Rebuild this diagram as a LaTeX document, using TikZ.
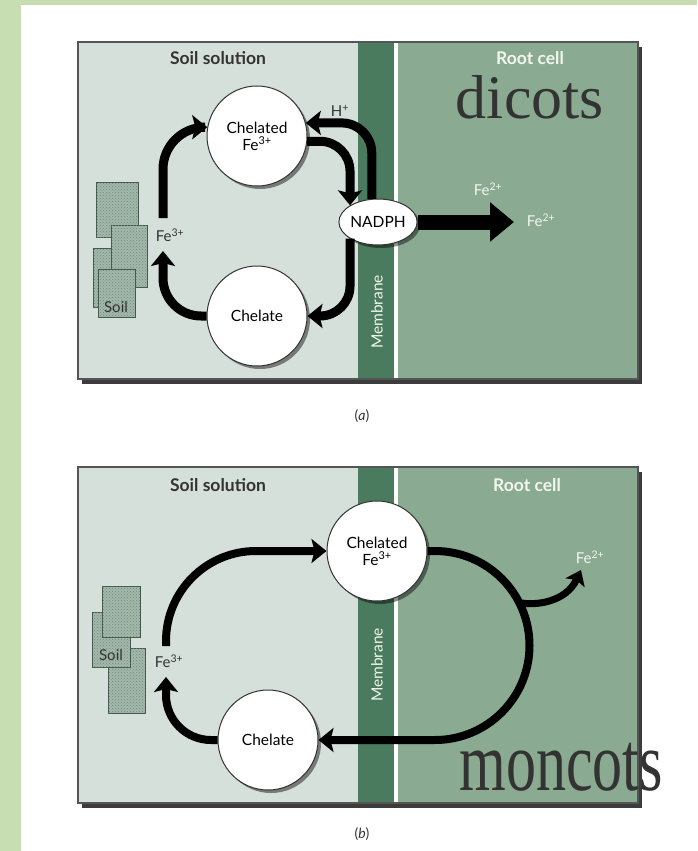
\documentclass[tikz,border=0pt]{standalone}
\usepackage{fontspec}
\setmainfont{Lato}
\newfontfamily\timesfont{Liberation Serif}
\usetikzlibrary{arrows.meta,shapes.geometric,shadows,patterns}

\definecolor{pagegreen}{HTML}{C6DEB2}
\definecolor{soilbg}{HTML}{D6E0DA}
\definecolor{rootbg}{HTML}{8AAB92}
\definecolor{membranebg}{HTML}{4B7B5E}
\definecolor{boxline}{HTML}{555555}
\definecolor{boxshadow}{HTML}{3C3C3C}
\definecolor{soilfill}{HTML}{A3B8AB}
\definecolor{soildot}{HTML}{6F8A79}
\definecolor{soilline}{HTML}{44574B}
\definecolor{paletext}{HTML}{F2F6EF}
\definecolor{inkgray}{HTML}{333333}

\tikzset{
  title/.style={font=\fontsize{17.5}{17.5}\selectfont\bfseries},
  ball/.style={circle, draw=inkgray, line width=1pt, fill=white, minimum size=100pt,
    inner sep=0pt, align=center, font=\fontsize{15.5}{17}\selectfont,
    drop shadow={shadow xshift=3pt, shadow yshift=-3pt, fill=black, opacity=0.45}},
  flow/.style={line width=9pt, -{Stealth[length=15pt,width=24pt,inset=3pt]}},
  thinflow/.style={line width=7pt, -{Stealth[length=14pt,width=21pt,inset=3pt]}},
  ion/.style={font=\fontsize{15}{15}\selectfont},
  soilbox/.style={draw=soilline, line width=1pt, fill=soilfill,
    postaction={pattern=crosshatch dots, pattern color=soildot}},
  wall/.style={text=paletext, font=\fontsize{15.5}{15.5}\selectfont, rotate=90},
}

\begin{document}
\begin{tikzpicture}[x=1pt,y=-1pt]

\useasboundingbox (0,0) rectangle (697,851);
\fill[pagegreen] (0,0) rectangle (697,851);
\fill[white] (21,5) rectangle (697,851);

% panel (a)
\fill[boxshadow] (82,47) rectangle (642,384);
\fill[soilbg] (78,42) rectangle (358,379);
\fill[membranebg] (358,42) rectangle (394,379);
\fill[white] (394,42) rectangle (398,379);
\fill[rootbg] (398,42) rectangle (638,379);
\draw[boxline, line width=1.5pt] (78,42) rectangle (638,379);

\node[title, text=inkgray] (soilA) at (218,58) {Soil solution};

\node[title, text=paletext] (rootA) at (530,58) {Root cell};

\node[wall] (memA) at (377,312) {Membrane};

\draw[soilbox] (96,182) rectangle (138,237);
\draw[soilbox] (93,248) rectangle (133,307);
\draw[soilbox] (111,225) rectangle (147,287);
\draw[soilbox] (98,269) rectangle (135,317);

\node[ion, inkgray] (soilLblA) at (116,307) {Soil};

\node[ball] (chelFeA) at (257,136) {Chelated\\Fe\textsuperscript{3+}};

\node[ball] (chelA) at (257,316) {Chelate};

\node[ellipse, draw=inkgray, line width=1pt, fill=white, minimum width=78pt,
  minimum height=46pt, inner sep=0pt, font=\fontsize{15.5}{16}\selectfont,
  drop shadow={shadow xshift=3pt, shadow yshift=-3pt, fill=black, opacity=0.45}]
  (nadph) at (378,222) {NADPH};

\node[ion, inkgray] (fe3A) at (170,235) {Fe\textsuperscript{3+}};

\node[ion, inkgray] (hplus) at (340,111) {H\textsuperscript{+}};

\node[ion, text=paletext] (fe2A) at (488,189) {Fe\textsuperscript{2+}};

\node[ion, text=paletext] (fe2B) at (541,220) {Fe\textsuperscript{2+}};

\coordinate (fe3inA) at (163,251);
\coordinate (fe3outA) at (163,218);
\coordinate (bigtip) at (514,222);

\draw[flow, rounded corners=38pt] (chelA.west) -| (fe3inA);
\draw[flow, rounded corners=42pt] (fe3outA) |- (chelFeA.170);
\draw[flow, rounded corners=30pt] (chelFeA.-6) -| (nadph.north west);
\draw[flow, rounded corners=30pt] (nadph.105) |- (chelFeA.15);
\draw[flow, rounded corners=30pt] (nadph.south west) |- (chelA.east);
\draw[line width=15pt, -{Triangle[length=24pt,width=38pt]}] (nadph.east) -- (bigtip);

\node[anchor=base, text=inkgray, font=\timesfont\fontsize{62}{62}\selectfont] (dicots) at (530,118) {dicots};

\node[font=\fontsize{14}{14}\selectfont, inkgray] (capA) at (362,416) {(\textit{a})};

% panel (b)
\fill[boxshadow] (82,472) rectangle (642,808);
\fill[soilbg] (78,467) rectangle (358,803);
\fill[membranebg] (358,467) rectangle (394,803);
\fill[white] (394,467) rectangle (398,803);
\fill[rootbg] (398,467) rectangle (638,803);
\draw[boxline, line width=1.5pt] (78,467) rectangle (638,803);

\node[title, text=inkgray] (soilB) at (218,485) {Soil solution};

\node[title, text=paletext] (rootB) at (527,485) {Root cell};

\node[wall] (memB) at (377,665) {Membrane};

\draw[soilbox] (108,648) rectangle (145,713);
\draw[soilbox] (92,612) rectangle (130,667);
\draw[soilbox] (102,586) rectangle (140,637);

\node[ion, inkgray] (soilLblB) at (111,655) {Soil};

\node[ball] (chelFeB) at (377,551) {Chelated\\Fe\textsuperscript{3+}};

\node[ball] (chelB) at (268,740) {Chelate};

\node[ion, inkgray] (fe3B) at (169,661) {Fe\textsuperscript{3+}};

\node[ion, text=paletext] (fe2C) at (590,557) {Fe\textsuperscript{2+}};

\coordinate (fe3inB) at (166,677);
\coordinate (fe3outB) at (166,646);
\coordinate (loopTop) at (435,551);
\coordinate (split) at (519.2,602.6);
\coordinate (fe2tip) at (581,570);

\draw[flow, line width=8pt, rounded corners=45pt] (chelB.west) -| (fe3inB);
\draw[flow, line width=8pt, rounded corners=90pt] (fe3outB) |- (chelFeB.west);
\draw[flow, line width=8pt] (chelFeB.east) -- (loopTop) arc[start angle=-90, end angle=90, radius=94.5] -- (chelB.east);
\draw[thinflow] (split) .. controls (536,606) and (566,602) .. (fe2tip);

\node[anchor=base, text=inkgray, font=\timesfont\fontsize{60}{60}\selectfont] (moncots) at (561,790) {\scalebox{1}[1.4]{moncots}};

\node[font=\fontsize{14}{14}\selectfont, inkgray] (capB) at (362,834) {(\textit{b})};

\end{tikzpicture}
\end{document}
